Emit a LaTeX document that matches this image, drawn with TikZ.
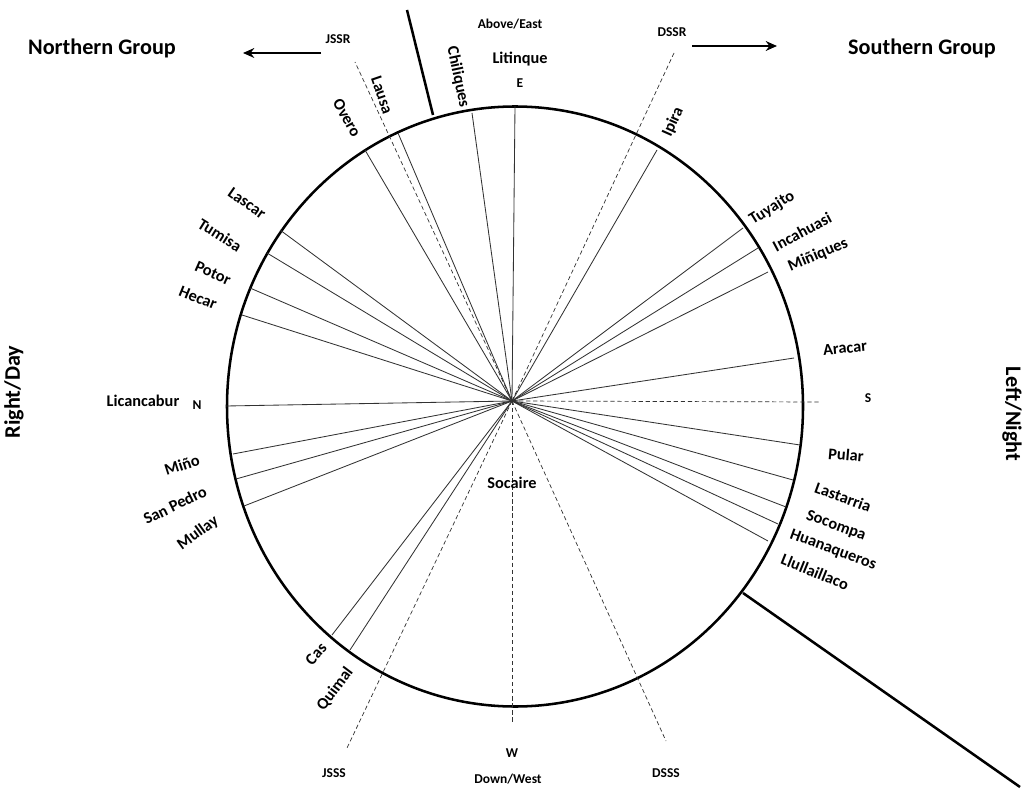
\documentclass[tikz,border=0pt]{standalone}
\usepackage{fontspec}
\setmainfont{Carlito}
\usepackage{tikz}
\usetikzlibrary{arrows, arrows.meta, positioning, calc}
\definecolor{spokegray}{RGB}{50, 50, 50}
\tikzstyle{peak} = [font=\fontsize{11.6}{13}\selectfont\bfseries, inner sep=0pt]
\tikzstyle{compass} = [font=\fontsize{9.6}{11}\selectfont\bfseries, inner sep=0pt]
\tikzstyle{grouplabel} = [font=\fontsize{15.8}{18}\selectfont\bfseries, inner sep=0pt]
\tikzstyle{spoke} = [line width=0.6pt, spokegray]
\tikzstyle{axisline} = [densely dashed, line width=0.5pt, spokegray]
\tikzstyle{divider} = [line width=1.8pt]
\tikzstyle{arrow} = [line width=1.4pt,-{Stealth[length=8pt,width=7pt]}]

\begin{document}
\begin{tikzpicture}[x=0.025cm, y=-0.025cm]
\useasboundingbox (0,0) rectangle (1031,793);

% Horizon circle and observer
\draw[line width=1.8pt] (515,406.5) ellipse [x radius=288, y radius=300];
\coordinate (hub) at (512,401);

% Solstice and cardinal axes
\coordinate (jssr) at (355,62);
\coordinate (dssr) at (674,53);
\coordinate (jsss) at (347,748);
\coordinate (dsss) at (666,741);
\coordinate (west) at (512,723);
\coordinate (south) at (819,402);
\draw[axisline] (hub) -- (jssr);
\draw[axisline] (hub) -- (dssr);
\draw[axisline] (hub) -- (jsss);
\draw[axisline] (hub) -- (dsss);
\draw[axisline] (hub) -- (west);
\draw[axisline] (hub) -- (south);

% Sight lines to the peaks
\coordinate (overo) at (365,150);
\coordinate (lausa) at (398,133);
\coordinate (chiliques) at (472,113);
\coordinate (litinque) at (515,106);
\coordinate (ipira) at (657,150);
\coordinate (tuyajto) at (743,228);
\coordinate (incahuasi) at (758,248);
\coordinate (miniques) at (768,272);
\coordinate (aracar) at (794,358);
\coordinate (pular) at (800,445);
\coordinate (lastarria) at (793,480);
\coordinate (socompa) at (786,507);
\coordinate (huanaqueros) at (778,524);
\coordinate (llullaillaco) at (768,541);
\coordinate (quimal) at (350,650);
\coordinate (cas) at (332,635);
\coordinate (mullay) at (244,506);
\coordinate (sanpedro) at (236,479);
\coordinate (mino) at (233,454);
\coordinate (licancabur) at (226,406);
\coordinate (hecar) at (242,315);
\coordinate (potor) at (250,288);
\coordinate (tumisa) at (267,253);
\coordinate (lascar) at (280,230);
\draw[spoke] (hub) -- (overo);
\draw[spoke] (hub) -- (lausa);
\draw[spoke] (hub) -- (chiliques);
\draw[spoke] (hub) -- (litinque);
\draw[spoke] (hub) -- (ipira);
\draw[spoke] (hub) -- (tuyajto);
\draw[spoke] (hub) -- (incahuasi);
\draw[spoke] (hub) -- (miniques);
\draw[spoke] (hub) -- (aracar);
\draw[spoke] (hub) -- (pular);
\draw[spoke] (hub) -- (lastarria);
\draw[spoke] (hub) -- (socompa);
\draw[spoke] (hub) -- (huanaqueros);
\draw[spoke] (hub) -- (llullaillaco);
\draw[spoke] (hub) -- (quimal);
\draw[spoke] (hub) -- (cas);
\draw[spoke] (hub) -- (mullay);
\draw[spoke] (hub) -- (sanpedro);
\draw[spoke] (hub) -- (mino);
\draw[spoke] (hub) -- (licancabur);
\draw[spoke] (hub) -- (hecar);
\draw[spoke] (hub) -- (potor);
\draw[spoke] (hub) -- (tumisa);
\draw[spoke] (hub) -- (lascar);

% Group dividers
\coordinate (topin) at (433,115);
\coordinate (topout) at (407,10);
\coordinate (lowin) at (743,593);
\coordinate (lowout) at (1020,787);
\draw[divider] (topin) -- (topout);
\draw[divider] (lowin) -- (lowout);

% Peak names
\node[peak, rotate=-78] (chiliquesname) at (458,77) {Chiliques};
\node[peak, rotate=-71] (lausaname) at (382,95) {Lausa};
\node[peak, rotate=-61] (overoname) at (347,118) {Overo};
\node[peak] (litinquename) at (520,59) {Litinque};
\node[peak, rotate=66] (ipiraname) at (673,122) {Ipira};
\node[peak, rotate=32] (tuyajtoname) at (772,208) {Tuyajto};
\node[peak, rotate=28] (incahuasiname) at (802,232) {Incahuasi};
\node[peak, rotate=23] (miniquesname) at (818,255) {Miñiques};
\node[peak, rotate=5] (aracarname) at (845,348) {Aracar};
\node[peak, rotate=-5] (pularname) at (846,455) {Pular};
\node[peak, rotate=-20] (lastarrianame) at (843,497) {Lastarria};
\node[peak, rotate=-20] (socompaname) at (836,526) {Socompa};
\node[peak, rotate=-20] (huanaquerosname) at (833,550) {Huanaqueros};
\node[peak, rotate=-22] (llullaillaconame) at (815,572) {Llullaillaco};
\node[peak, rotate=53] (quimalname) at (335,689) {Quimal};
\node[peak, rotate=48] (casname) at (316,654) {Cas};
\node[peak, rotate=36] (mullayname) at (198,533) {Mullay};
\node[peak, rotate=26] (sanpedroname) at (175,505) {San Pedro};
\node[peak, rotate=18] (minoname) at (182,465) {Miño};
\node[peak] (licancaburname) at (143,401) {Licancabur};
\node[peak, rotate=-22] (hecarname) at (198,298) {Hecar};
\node[peak, rotate=-24] (potorname) at (213,273) {Potor};
\node[peak, rotate=-32] (tumisaname) at (220,235) {Tumisa};
\node[peak, rotate=-35] (lascarname) at (247,203) {Lascar};
\node[peak] (socaire) at (512,483) {Socaire};

% Directions and solstices
\node[compass] (abovelabel) at (510,24) {Above/East};
\node[compass] (elabel) at (520,83) {E};
\node[compass] (nlabel) at (197,405) {N};
\node[compass] (slabel) at (868,398) {S};
\node[compass] (wlabel) at (512,753) {W};
\node[compass] (downlabel) at (508,779) {Down/West};
\node[compass] (jssrlabel) at (338,39) {JSSR};
\node[compass] (dssrlabel) at (672,32) {DSSR};
\node[compass] (jssslabel) at (334,773) {JSSS};
\node[compass] (dssslabel) at (666,773) {DSSS};

% Groups
\node[grouplabel] (northern) at (102,48) {Northern Group};
\node[grouplabel] (southern) at (922,48) {Southern Group};
\node[grouplabel, rotate=90] (rightday) at (14,392) {Right/Day};
\node[grouplabel, rotate=-90] (leftnight) at (1012,414) {Left/Night};
\coordinate (narrowstart) at (321,53);
\coordinate (narrowend) at (243,53);
\coordinate (sarrowstart) at (692,46);
\coordinate (sarrowend) at (777,46);
\draw[arrow] (narrowstart) -- (narrowend);
\draw[arrow] (sarrowstart) -- (sarrowend);
\end{tikzpicture}
\end{document}
